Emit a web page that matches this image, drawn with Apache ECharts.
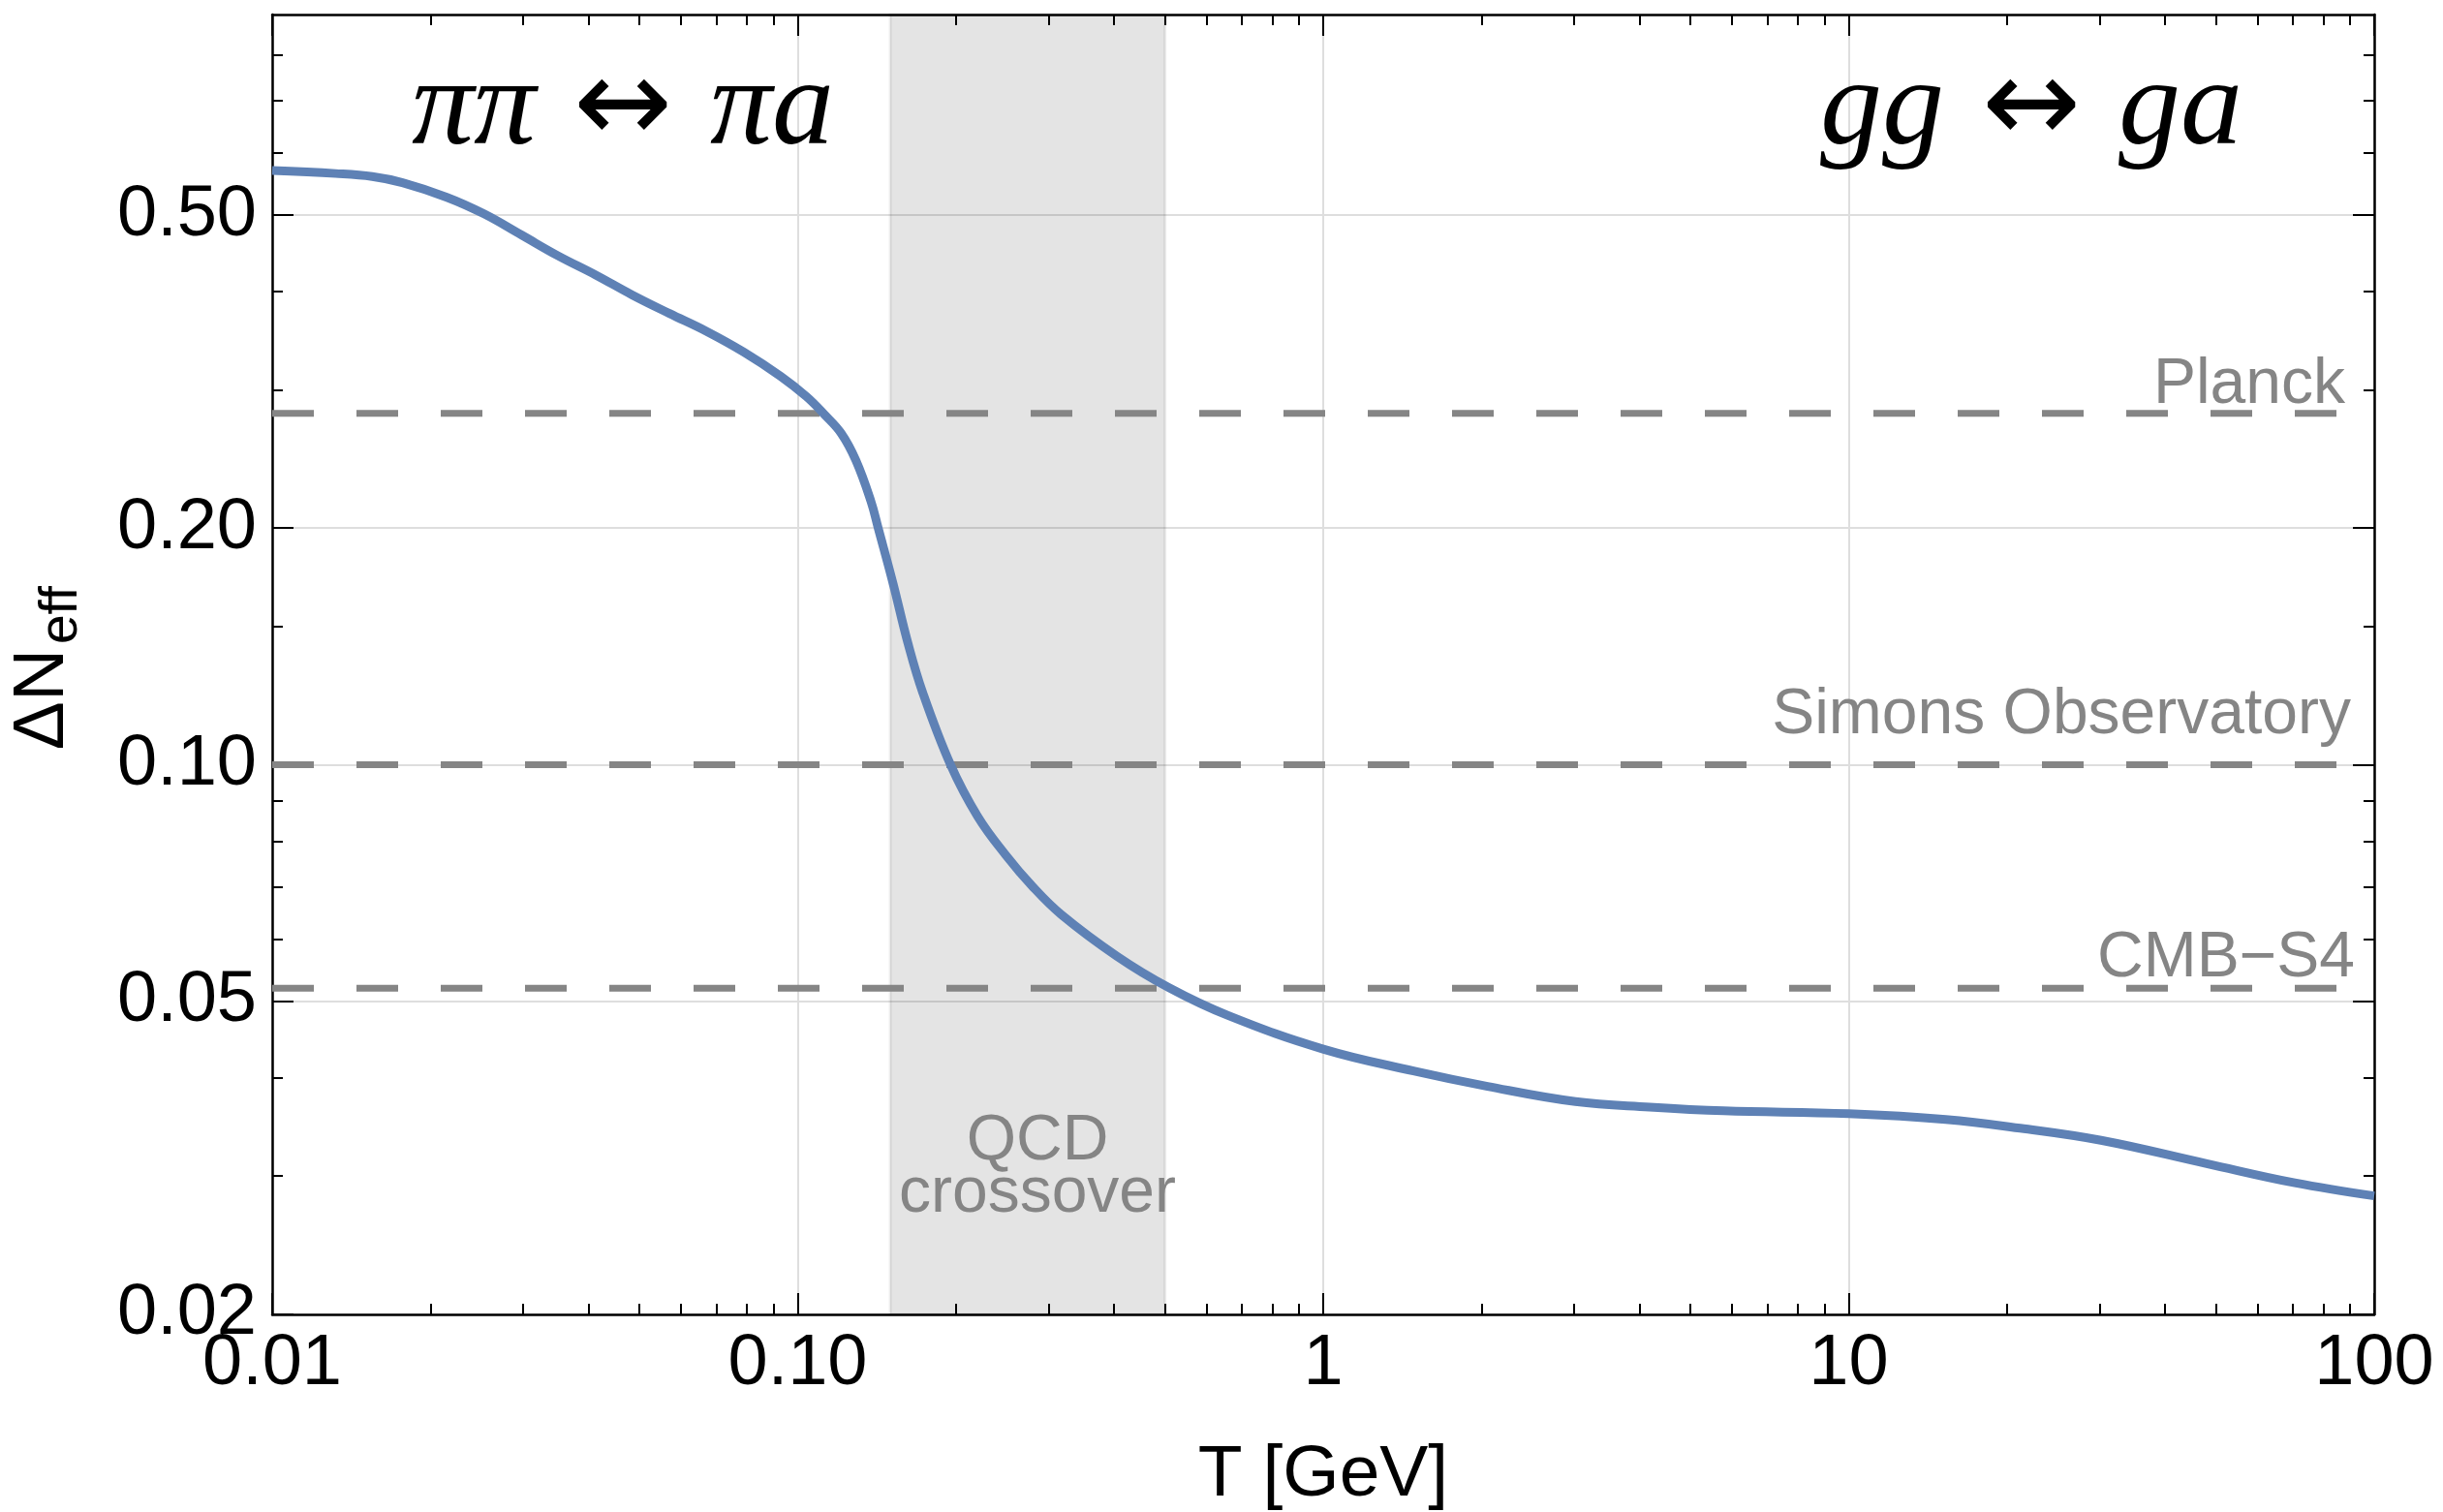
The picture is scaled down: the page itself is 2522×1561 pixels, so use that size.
<!DOCTYPE html>
<html>
<head>
<meta charset="utf-8">
<title>ΔNeff vs T</title>
<script src="https://cdn.jsdelivr.net/npm/echarts@6.0.0/dist/echarts.min.js"></script>
<style>
  html, body { margin: 0; padding: 0; background: #fff; }
  #chart { width: 2522px; height: 1561px; }
</style>
</head>
<body>
<div id="chart"></div>
<script>
  // curve: temperature T [GeV] and ΔNeff
  const temps = [0.01, 0.0132, 0.0155, 0.0177, 0.0215, 0.0253, 0.0298, 0.035, 0.0412, 0.0484,
    0.057, 0.067, 0.0789, 0.0928, 0.1039, 0.1124, 0.121, 0.129, 0.1378, 0.1423,
    0.1519, 0.162, 0.173, 0.1954, 0.22, 0.2488, 0.28, 0.3174, 0.405, 0.508,
    0.659, 1.0, 1.485, 2.055, 3.02, 4.18, 5.78, 10, 15.3, 21.2,
    30.2, 48, 70.6, 100]
  const deltaNeff = [0.570, 0.565, 0.560, 0.550, 0.527, 0.502, 0.472, 0.444, 0.420, 0.396,
    0.375, 0.356, 0.335, 0.312, 0.294, 0.279, 0.264, 0.244, 0.2165, 0.200,
    0.170, 0.143, 0.1235, 0.100, 0.0860, 0.0768, 0.0700, 0.0645, 0.0571, 0.0521,
    0.0480, 0.0435, 0.0408, 0.0390, 0.0373, 0.0367, 0.0363, 0.0360, 0.0354, 0.0345,
    0.0333, 0.0311, 0.0294, 0.0283]

  // experimental sensitivities (dashed lines)
  const refNames = ['Planck', 'Simons Observatory', 'CMB\u2212S4']
  const refValues = [0.28, 0.10, 0.052]

  // QCD crossover band [GeV]
  const qcdBand = [0.15, 0.5]

  // axes
  const xRange = [0.01, 100]
  const yRange = [0.02, 0.9]
  const xTicks = [0.01, 0.1, 1, 10, 100]
  const xTickLabels = ['0.01', '0.10', '1', '10', '100']
  const xMinorTicks = [0.02, 0.03, 0.04, 0.05, 0.06, 0.07, 0.08, 0.09,
    0.2, 0.3, 0.4, 0.5, 0.6, 0.7, 0.8, 0.9,
    2, 3, 4, 5, 6, 7, 8, 9,
    20, 30, 40, 50, 60, 70, 80, 90]
  const yTicks = [0.02, 0.05, 0.1, 0.2, 0.5]
  const yTickLabels = ['0.02', '0.05', '0.10', '0.20', '0.50']
  const yMinorTicks = [0.03, 0.04, 0.06, 0.07, 0.08, 0.09, 0.15, 0.3, 0.4, 0.6, 0.7, 0.8]

  const sans = "'Liberation Sans', Arial, sans-serif"
  const serif = "'Liberation Serif', 'DejaVu Serif', serif"
  const grey = '#858585'

  // log ticks come back as floats, so match to the nearest listed tick
  const pickLabel = (ticks, labels) => v => {
    let best = 0
    ticks.forEach((t, i) => {
      if (Math.abs(Math.log(t / v)) < Math.abs(Math.log(ticks[best] / v))) best = i
    })
    return labels[best]
  }

  const frameAxis = (range, position, ticks, tickLen, withLine) => ({
    type: 'log',
    logBase: 10,
    min: range[0],
    max: range[1],
    position: position,
    axisLine: { show: withLine, onZero: false, lineStyle: { color: '#000', width: 2.5 } },
    axisTick: { show: true, inside: true, length: tickLen, customValues: ticks, lineStyle: { color: '#000', width: 2 } },
    axisLabel: { show: false },
    splitLine: { show: false },
    minorTick: { show: false },
    minorSplitLine: { show: false }
  })

  const xMain = frameAxis(xRange, 'bottom', xTicks, 22, true)
  xMain.axisLabel = {
    show: true, customValues: xTicks, formatter: pickLabel(xTicks, xTickLabels),
    margin: 15, fontSize: 74, color: '#000', fontFamily: sans
  }
  xMain.splitLine = { show: true, lineStyle: { color: '#dedede', width: 2 } }
  xMain.name = 'T [GeV]'
  xMain.nameLocation = 'middle'
  xMain.nameGap = 129
  xMain.nameTextStyle = { fontSize: 75, color: '#000', fontFamily: sans }

  const yMain = frameAxis(yRange, 'left', yTicks, 22, true)
  yMain.axisLabel = {
    show: true, customValues: yTicks, formatter: pickLabel(yTicks, yTickLabels),
    margin: 16, fontSize: 74, color: '#000', fontFamily: sans
  }
  yMain.splitLine = { show: true, lineStyle: { color: '#dedede', width: 2 } }

  const refSeries = refValues.map((v, i) => ({
    name: refNames[i],
    type: 'line',
    data: [[xRange[0], v], [xRange[1], v]],
    symbol: 'none',
    silent: true,
    z: 3,
    lineStyle: { color: grey, width: 7, type: [43, 44] }
  }))

  // process label: italic letters with a larger upright arrow between them
  const processRich = {
    i: { fontSize: 128, fontStyle: 'italic', fontFamily: serif, fill: '#000' },
    a: { fontSize: 122, fontFamily: "'DejaVu Sans', sans-serif", fill: '#000' }
  }

  const chart = echarts.init(document.getElementById('chart'))

  chart.setOption({
    animation: false,
    backgroundColor: '#fff',
    grid: { left: 281, right: 71, top: 15, bottom: 204, containLabel: false, outerBoundsMode: 'none' },
    xAxis: [
      xMain,
      frameAxis(xRange, 'bottom', xMinorTicks, 11, false),
      frameAxis(xRange, 'top', xTicks, 22, true),
      frameAxis(xRange, 'top', xMinorTicks, 11, false)
    ],
    yAxis: [
      yMain,
      frameAxis(yRange, 'left', yMinorTicks, 11, false),
      frameAxis(yRange, 'right', yTicks, 22, true),
      frameAxis(yRange, 'right', yMinorTicks, 11, false)
    ],
    series: [
      ...refSeries,
      {
        name: 'ΔNeff',
        type: 'line',
        data: temps.map((t, i) => [t, deltaNeff[i]]),
        smooth: 0.4,
        symbol: 'none',
        silent: true,
        z: 4,
        lineStyle: { color: '#5E81B5', width: 9 },
        markArea: {
          silent: true,
          itemStyle: { color: 'rgba(0,0,0,0.105)', borderColor: 'rgba(0,0,0,0.07)', borderWidth: 3 },
          data: [[{ xAxis: qcdBand[0] }, { xAxis: qcdBand[1] }]]
        }
      }
    ],
    graphic: [
      // y axis title, rotated
      {
        type: 'text', x: 44, y: 722, rotation: Math.PI / 2, z: 100,
        style: { text: 'ΔN', fill: '#000', fontSize: 75, fontFamily: sans, align: 'center', verticalAlign: 'middle' }
      },
      {
        type: 'text', x: 64, y: 635, rotation: Math.PI / 2, z: 100,
        style: { text: 'eff', fill: '#000', fontSize: 55, fontFamily: sans, align: 'center', verticalAlign: 'middle' }
      },
      // process labels
      {
        type: 'text', x: 643, y: 114, z: 100,
        style: { text: '{i|ππ}{a| ↔ }{i|πa}', align: 'center', verticalAlign: 'middle', rich: processRich }
      },
      {
        type: 'text', x: 2097, y: 114, z: 100,
        style: { text: '{i|gg}{a| ↔ }{i|ga}', align: 'center', verticalAlign: 'middle', rich: processRich }
      },
      // experiment labels
      {
        type: 'text', x: 2421, y: 398, z: 100,
        style: { text: refNames[0], fill: grey, fontSize: 66, fontFamily: sans, align: 'right', verticalAlign: 'middle' }
      },
      {
        type: 'text', x: 2427, y: 739, z: 100,
        style: { text: refNames[1], fill: grey, fontSize: 66, fontFamily: sans, align: 'right', verticalAlign: 'middle' }
      },
      {
        type: 'text', x: 2431, y: 990, z: 100,
        style: { text: refNames[2], fill: grey, fontSize: 66, fontFamily: sans, align: 'right', verticalAlign: 'middle' }
      },
      {
        type: 'text', x: 1071, y: 1152, z: 100,
        style: {
          text: 'QCD\ncrossover', fill: grey, fontSize: 66, lineHeight: 54, fontFamily: sans,
          align: 'center', verticalAlign: 'top'
        }
      }
    ]
  })

  window.addEventListener('resize', () => chart.resize())
</script>
</body>
</html>
